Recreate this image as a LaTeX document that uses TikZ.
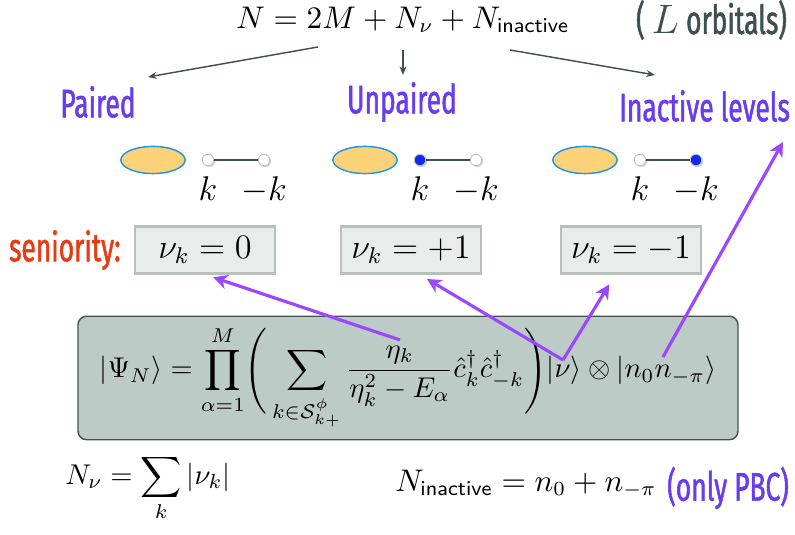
\documentclass[tikz,border=0pt]{standalone}
\usepackage{amsmath}
\usepackage{fontspec}
\usetikzlibrary{positioning,shapes.geometric,shadows,arrows.meta}

\newfontfamily\labelfont[FakeStretch=0.66,FakeBold=1.3]{Fira Sans}

\definecolor{labelpurple}{RGB}{105,60,240}
\definecolor{arrowpurple}{RGB}{155,70,255}
\definecolor{senred}{RGB}{230,60,20}
\definecolor{slate}{RGB}{60,80,80}
\definecolor{orbfill}{RGB}{252,210,120}
\definecolor{orbline}{RGB}{30,150,230}
\definecolor{bigfill}{RGB}{188,203,198}
\definecolor{bigline}{RGB}{70,80,80}
\definecolor{boxfill}{RGB}{232,236,234}
\definecolor{boxline}{RGB}{185,192,188}
\definecolor{dotblue}{RGB}{15,40,245}

\tikzset{
  lbl/.style={font=\labelfont\fontsize{14}{16}\selectfont, text=labelpurple},
  graytext/.style={font=\labelfont\fontsize{14}{16}\selectfont, text=slate},
  orb/.style={ellipse, draw=orbline, fill=orbfill, line width=0.5pt,
    minimum width=22.5pt, minimum height=9.5pt},
  lvldot/.style={circle, draw=white!75!black, line width=0.3pt, fill=#1,
    minimum size=4pt, inner sep=0pt,
    drop shadow={opacity=0.35, shadow xshift=0.5pt, shadow yshift=-0.5pt}},
  level/.style={draw=slate, line width=0.9pt},
  sbox/.style={draw=boxline, fill=boxfill, line width=1pt, font=\large,
    minimum width=49pt, minimum height=14pt},
  bigbox/.style={draw=bigline, fill=bigfill, line width=0.5pt, rounded corners=3pt,
    minimum width=231pt, minimum height=42pt},
  grayarrow/.style={draw=slate, line width=0.5pt, -{Stealth[length=3pt,width=2.4pt]}},
  purplearrow/.style={draw=arrowpurple, line width=1.1pt,
    -{Stealth[length=5pt,width=5pt,inset=1.5pt]}},
}

\begin{document}
\begin{tikzpicture}[x=0.35pt,y=-0.35pt]
\useasboundingbox (0,0) rectangle (795,535);

\node[font=\fontsize{10.5}{12}\selectfont] (total) at (403,20) {$N = 2M + N_\nu + N_{\mathsf{inactive}}$};
\node[graytext, anchor=east] (orbitals) at (797,20) {( $L$ orbitals)};

\node[lbl] (paired) at (98,102) {Paired};
\node[lbl] (unpaired) at (402,102) {Unpaired};
\node[lbl, anchor=east] (inactive) at (800,106) {Inactive levels};

\coordinate (t1) at (318,47);
\coordinate (p1) at (148,77);
\coordinate (t2) at (403,50);
\coordinate (p2) at (403,75);
\coordinate (t3) at (510,50);
\coordinate (p3) at (655,75);
\draw[grayarrow] (t1) -- (p1);
\draw[grayarrow] (t2) -- (p2);
\draw[grayarrow] (t3) -- (p3);

% niveles k, -k
\foreach \x/\ck/\cmk [count=\i] in {153/white/white, 365/dotblue/white, 585/white/dotblue} {
  \node[orb] (orb\i) at (\x,160) {};
  \node[lvldot=\ck] (k\i) at (\x+55,160) {};
  \node[lvldot=\cmk] (mk\i) at (\x+111,160) {};
  \draw[level] (k\i) -- (mk\i);
  \node[below=0pt of k\i, font=\large] (klab\i) {$k$};
  \node[below=0pt of mk\i, font=\large] (mklab\i) {$-k$};
}

\node[sbox] (nuz) at (205,250) {$\nu_k = 0$};
\node[sbox] (nup) at (411,250) {$\nu_k = +1$};
\node[sbox] (num) at (631,250) {$\nu_k = -1$};
\node[lbl, text=senred, left=1pt of nuz] (sen) {seniority:};

\node[bigbox] (psi) at (408,378) {$\displaystyle |\Psi_N\rangle = \prod_{\alpha=1}^{M}
  \!\Bigg( \sum_{k\in\mathcal{S}^{\phi}_{k+}} \frac{\eta_k}{\eta_k^2 - E_\alpha}
  \hat{c}^\dagger_k \hat{c}^\dagger_{-k} \Bigg) |\nu\rangle \otimes |n_0 n_{-\pi}\rangle$};

\coordinate (eta) at (400,340);
\coordinate (nuket) at (563,360);
\coordinate (nket) at (663,357);
\draw[purplearrow, shorten >=3pt] (eta) -- (nuz.south);
\draw[purplearrow, shorten >=3pt] (nuket) -- ([xshift=3pt]nup.south);
\draw[purplearrow, shorten >=4pt] (nuket) -- ([xshift=-5.5pt]num.south);
\draw[purplearrow, shorten >=4pt] (nket) -- ([xshift=-4pt]inactive.south east);

\node (nnu) at (148,488) {$\displaystyle N_\nu = \sum_k |\nu_k|$};
\node[font=\fontsize{10.5}{12}\selectfont] (ninact) at (526,484) {$N_{\mathsf{inactive}} = n_0 + n_{-\pi}$};
\node[lbl, anchor=east] (pbc) at (799,488) {(only PBC)};

\end{tikzpicture}
\end{document}
